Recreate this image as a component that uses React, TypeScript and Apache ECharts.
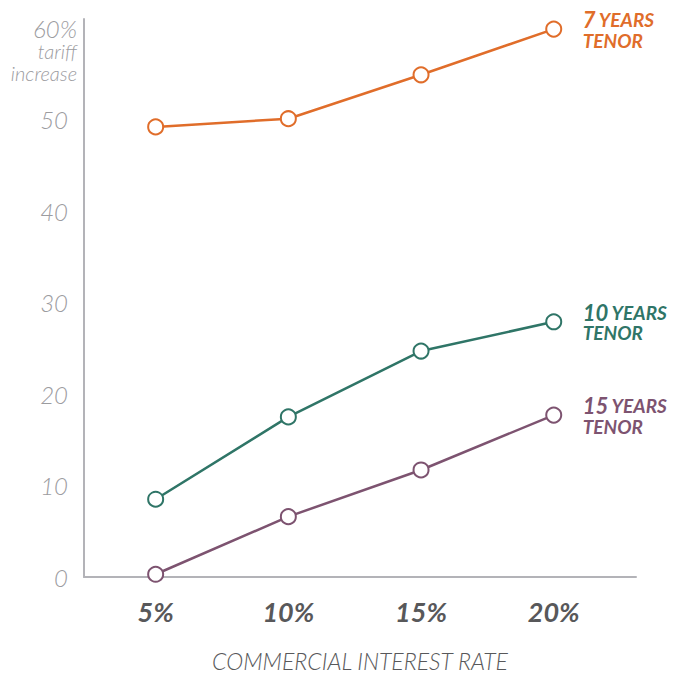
import React, { useEffect, useRef } from "react";
import * as echarts from "echarts";

const rates = [5, 10, 15, 20];
const tenor7 = [49.2, 50.1, 54.9, 59.9];
const tenor10 = [8.5, 17.5, 24.7, 27.9];
const tenor15 = [0.3, 6.6, 11.7, 17.7];
const yTickLabels = [0, 10, 20, 30, 40, 50];
const seriesDefs = [
  { years: "7", data: tenor7, color: "#e06d2a" },
  { years: "10", data: tenor10, color: "#2f7567" },
  { years: "15", data: tenor15, color: "#7d5370" },
];

const FONT = "Lato, 'Open Sans', sans-serif";
const GREY = "#9c9c9f";

export default function App() {
  const ref = useRef<HTMLDivElement>(null);
  useEffect(() => {
    if (!ref.current) return;
    const chart = echarts.init(ref.current, null, { renderer: "svg" });
    const lightText = (size: number) => ({
      fontSize: size,
      fontStyle: "italic",
      fontWeight: 300,
      fill: GREY,
      fontFamily: FONT,
    });
    chart.setOption({
      animation: false,
      backgroundColor: "#ffffff",
      grid: {
        left: 84,
        right: 42,
        top: 19,
        bottom: 98,
        containLabel: false,
        outerBoundsMode: "none",
      },
      xAxis: {
        type: "value",
        min: 2.3,
        max: 23.1,
        splitLine: { show: false },
        axisTick: { show: false },
        axisLine: { show: true, lineStyle: { color: "#b3b3b8", width: 2 } },
        axisLabel: {
          customValues: rates,
          formatter: (v: number) => `${v}%`,
          margin: 21,
          fontSize: 27,
          fontStyle: "italic",
          fontWeight: "bold",
          color: "#58585a",
          fontFamily: FONT,
        },
        name: "COMMERCIAL INTEREST RATE",
        nameLocation: "middle",
        nameGap: 73,
        nameTextStyle: {
          fontSize: 23,
          lineHeight: 22,
          fontStyle: "italic",
          fontWeight: 300,
          color: "#58585a",
          fontFamily: FONT,
        },
      },
      yAxis: {
        type: "value",
        min: 0,
        max: 61,
        splitLine: { show: false },
        axisTick: { show: false },
        axisLine: { show: true, lineStyle: { color: "#b3b3b8", width: 2 } },
        axisLabel: {
          customValues: yTickLabels,
          margin: 16,
          fontSize: 24,
          fontStyle: "italic",
          fontWeight: 300,
          color: GREY,
          fontFamily: FONT,
        },
      },
      graphic: [
        {
          type: "text",
          x: 77,
          y: 28,
          style: { text: "60%", align: "right", verticalAlign: "middle", ...lightText(24) },
        },
        {
          type: "text",
          x: 77,
          y: 51,
          style: { text: "tariff", align: "right", verticalAlign: "middle", ...lightText(20) },
        },
        {
          type: "text",
          x: 77,
          y: 73,
          style: { text: "increase", align: "right", verticalAlign: "middle", ...lightText(20) },
        },
      ],
      series: seriesDefs.map((s) => ({
        type: "line",
        name: `${s.years} years tenor`,
        data: s.data.map((v, i) => [rates[i], v]),
        symbol: "circle",
        symbolSize: 15,
        itemStyle: { color: "#ffffff", borderColor: s.color, borderWidth: 2 },
        lineStyle: { color: s.color, width: 2.5 },
        endLabel: {
          show: true,
          distance: 29,
          formatter: `{n|${s.years}} {w|YEARS}\n{w|TENOR}`,
          rich: {
            n: {
              fontSize: 22,
              fontStyle: "italic",
              fontWeight: "bold",
              color: s.color,
              fontFamily: FONT,
              lineHeight: 22,
            },
            w: {
              fontSize: 19,
              fontStyle: "italic",
              fontWeight: "bold",
              color: s.color,
              fontFamily: FONT,
              lineHeight: 19,
            },
          },
        },
      })),
    });
    return () => chart.dispose();
  }, []);
  return (
    <div
      ref={ref}
      style={{ position: "fixed", left: 0, top: 0, width: 678, height: 675 }}
    />
  );
}
